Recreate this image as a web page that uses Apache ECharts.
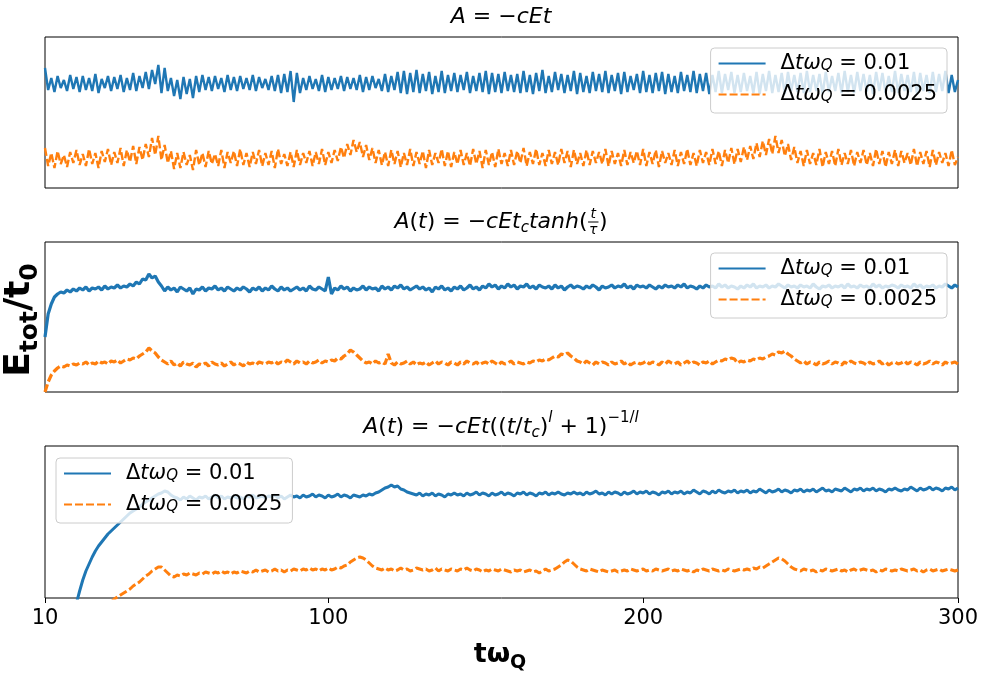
<!DOCTYPE html>
<html>
<head>
<meta charset="utf-8">
<script src="https://cdn.jsdelivr.net/npm/echarts@6/dist/echarts.min.js"></script>
<style>html,body{margin:0;padding:0;background:#fff;}#c{width:988px;height:673px;}</style>
</head>
<body>
<div id="c"></div>
<script>
// sample grid: t = 10 ... 300 (step 1)
const tStart = 10, tEnd = 300;
const xTicks = [10, 100, 200, 300];
const seriesNames = ['dt=0.01', 'dt=0.0025'];

// Panel 1: A = -cEt
const p1Fine = [
120,98,110,96,112,100,108,97,113,99,
111,96,112,98,110,97,114,95,109,100,
112,97,111,99,113,96,110,98,115,97,
112,100,116,99,118,104,123,95,120,97,
110,92,108,89,111,94,109,90,112,96,
113,98,111,97,112,99,110,96,113,98,
111,97,112,99,110,98,113,97,111,100,
109,98,112,97,113,95,114,96,117,86,
115,95,110,98,112,99,109,97,113,96,
111,98,110,99,112,97,111,99,110,98,
113,96,111,98,112,100,109,97,114,96,
112,98,116,95,117,94,115,96,118,95,
114,97,116,94,112,96,117,95,113,97,
115,96,113,98,116,95,112,97,115,96,
117,94,115,96,114,95,116,97,113,96,
114,95,117,96,113,94,115,97,118,95,
112,96,116,98,114,95,113,97,117,94,
115,96,112,95,116,97,114,96,117,95,
113,97,115,94,116,96,112,98,114,95,
117,96,113,95,115,97,116,94,114,96,
112,95,116,97,113,96,117,95,114,97,
115,94,113,96,117,95,114,98,116,95,
113,96,115,97,112,95,116,94,114,97,
117,95,113,96,115,94,116,97,113,96,
115,95,117,96,113,97,114,94,116,96,
112,97,115,95,117,96,113,95,116,97,
114,96,113,94,116,97,115,95,112,96,
117,95,114,97,113,96,116,94,115,97,
113,95,116,96,114,97,117,95,113,96,108];
const p1Coarse = [
40,22,35,20,37,24,33,21,36,25,
38,23,34,22,39,24,35,20,37,26,
39,23,36,25,40,22,38,26,42,24,
41,28,44,31,50,33,52,28,43,25,
37,19,35,20,36,23,33,18,38,23,
35,21,37,24,34,22,38,20,36,25,
37,22,39,23,35,21,36,24,38,22,
35,23,37,20,39,24,34,22,36,21,
38,23,35,25,37,22,36,24,39,23,
36,25,38,27,41,30,44,33,48,36,
46,31,43,28,40,25,38,23,36,22,
38,24,37,21,35,23,39,22,36,24,
37,20,38,23,35,25,39,22,37,21,
36,24,38,23,35,22,39,24,37,20,
38,23,36,21,39,24,35,22,38,23,
37,25,40,22,36,24,39,23,35,22,
38,24,36,23,39,25,37,21,38,24,
35,22,38,23,37,25,36,24,39,22,
37,24,35,22,38,23,36,25,37,23,
39,22,36,24,38,21,37,25,35,23,
38,22,36,24,39,23,35,22,38,25,
36,23,39,24,37,22,38,25,40,24,
39,26,41,28,42,29,45,31,47,33,
49,34,52,35,48,32,44,28,41,25,
37,22,38,24,35,23,39,21,36,24,
37,22,39,23,35,24,38,22,36,25,
38,23,35,22,39,24,37,21,36,24,
38,22,37,25,35,23,39,22,36,24,
37,21,38,23,36,25,35,22,38,23,31];

// Panel 2: A(t) = -cEt_c tanh(t/tau)
const p2Fine = [
55,78,88,95,98,100,99,102,100,103,
101,104,102,105,101,104,103,105,102,106,
103,105,104,107,104,106,105,108,106,110,
108,113,112,118,114,116,110,106,101,105,
102,104,100,105,103,101,104,98,103,102,
105,101,104,103,106,102,104,101,105,103,
101,104,102,105,103,100,104,102,105,101,
104,102,106,103,101,105,102,104,101,103,
105,102,104,101,106,103,102,105,103,101,
115,98,104,102,106,103,105,101,104,102,
103,106,102,105,103,104,101,106,103,105,
102,106,104,107,103,105,102,104,106,103,
105,102,104,100,105,103,106,102,104,101,
105,103,106,102,104,107,103,105,102,106,
104,108,105,107,103,106,104,108,105,107,
103,106,105,108,104,106,103,107,105,104,
106,103,107,104,106,102,105,107,104,106,
105,103,106,104,107,105,102,106,104,105,
107,104,106,105,108,104,106,103,107,105,
106,104,107,105,103,106,104,107,105,106,
104,107,105,108,104,106,105,103,106,104,
107,105,106,104,108,105,107,104,106,105,
103,106,104,107,105,108,104,106,105,107,
104,106,105,108,106,104,107,105,106,104,
107,105,106,104,108,105,103,106,105,107,
104,106,105,107,104,108,105,106,104,107,
105,106,104,108,105,107,104,106,105,107,
106,104,107,105,106,104,108,105,107,104,
106,105,107,104,106,105,108,106,104,107,105];
const p2Coarse = [
0,10,17,21,24,26,25,27,26,28,
27,29,28,30,27,29,28,31,29,30,
28,31,30,32,29,31,33,32,34,33,
36,38,40,44,41,39,35,32,30,28,
31,27,29,26,30,28,27,29,25,28,
27,29,26,30,28,27,29,26,28,30,
27,29,28,26,30,28,29,27,30,29,
28,30,29,31,28,30,29,32,30,28,
31,29,30,28,31,29,30,32,29,31,
30,32,31,34,33,36,38,42,40,37,
34,31,29,30,28,31,29,30,28,38,
29,27,30,28,29,31,28,30,27,29,
28,30,27,29,31,28,30,29,27,30,
29,27,30,28,31,29,28,30,27,29,
30,28,31,29,27,30,28,29,31,28,
30,29,28,30,29,31,30,32,31,33,
32,34,36,35,38,37,39,36,34,31,
30,28,31,29,27,30,28,30,29,27,
30,28,29,31,28,30,27,29,30,28,
29,31,28,30,29,27,30,28,31,29,
28,30,27,29,31,28,30,29,27,30,
29,31,28,30,32,31,33,32,34,33,
29,31,30,32,31,33,32,34,33,35,
36,38,37,40,39,41,38,36,33,31,
29,31,28,30,29,27,30,28,29,31,
28,30,29,27,30,28,31,29,28,30,
29,27,30,28,29,31,28,30,27,29,
30,28,29,31,28,30,29,27,30,28,
29,31,28,30,29,27,30,28,29,30,28];

// Panel 3: A(t) = -cEt((t/t_c)^l + 1)^(-1/l)
const p3Fine = [
-420,-360,-300,-250,-200,-160,-120,-85,-55,-28,
-5,7,18,27,34,41,47,52,56,60,
64,67,70,73,76,79,82,85,87,89,
91,94,96,98,100,102,104,105,107,106,
103,101,100,98,101,99,102,100,98,101,
100,102,99,101,103,100,102,99,101,100,
102,100,101,99,102,101,103,100,101,102,
100,102,101,103,100,102,99,101,103,101,
102,100,103,101,102,104,101,103,102,100,
103,101,102,104,101,103,102,100,103,102,
101,103,102,104,103,105,106,108,110,111,
113,111,112,109,108,106,105,104,103,105,
102,104,103,105,102,104,103,101,104,103,
105,103,104,102,105,103,104,106,103,105,
104,102,105,103,104,106,103,105,104,102,
105,104,106,103,105,104,102,105,104,106,
103,105,104,106,104,103,105,104,106,104,
105,103,106,104,105,107,104,105,103,106,
104,106,105,103,106,104,105,107,104,106,
105,107,104,106,105,103,106,105,107,104,
106,105,107,104,106,105,108,106,104,107,
106,104,107,105,108,106,105,107,106,108,
105,107,106,108,105,107,106,109,107,105,
108,106,107,109,106,108,107,105,108,107,
109,106,108,107,109,106,108,110,107,108,
106,109,108,107,110,108,106,109,108,110,
107,109,108,110,107,109,108,106,109,108,
110,108,107,109,108,111,109,107,110,108,
109,111,108,110,109,107,110,109,111,108,110];
const p3Coarse = [
-300,-270,-240,-210,-185,-160,-140,-120,-102,-86,
-72,-60,-50,-41,-34,-28,-22,-17,-13,-10,
-7,-4,-1,1,3,5,7,9,12,14,
16,19,22,24,27,29,31,31,28,25,
22,21,23,22,24,23,25,24,23,25,
24,26,25,24,26,25,27,25,26,24,
26,25,27,26,25,27,26,28,26,27,
28,26,27,29,27,28,26,28,27,29,
28,27,29,28,30,28,29,27,29,28,
30,28,29,31,30,32,33,36,38,40,
41,40,38,35,32,30,29,28,30,28,
29,27,28,30,28,29,27,28,30,29,
28,29,27,28,30,27,29,28,27,29,
28,27,29,28,30,28,27,29,28,26,
28,27,29,28,27,29,28,27,26,28,
27,28,26,27,28,26,27,25,27,29,
27,28,29,31,33,36,38,37,34,31,
29,28,27,29,28,27,26,28,27,26,
27,28,26,27,28,27,29,28,27,28,
29,27,28,27,29,28,27,28,29,27,
28,27,29,28,27,28,26,28,27,29,
28,27,29,28,27,28,27,29,28,27,
28,29,28,29,28,30,29,31,30,32,
34,36,38,40,39,37,34,31,29,28,
27,29,28,27,28,26,28,27,29,28,
27,28,29,27,28,26,28,29,27,28,
29,28,27,28,26,28,27,29,28,27,
28,27,29,28,27,28,29,27,28,26,
28,29,27,28,29,27,28,29,28,27,28];

const panels = [
  {fine: p1Fine, coarse: p1Coarse, top: 37, height: 151, lw: 2.4},
  {fine: p2Fine, coarse: p2Coarse, top: 242, height: 150, lw: 3.2},
  {fine: p3Fine, coarse: p3Coarse, top: 446, height: 152, lw: 3}
];

const BLUE = '#1f77b4', ORANGE = '#ff7f0e';
const FONT = 'DejaVu Sans';

function toPairs(vals) {
  return vals.map((v, i) => [tStart + i, v]);
}

// --- math-like text helper (measured with canvas) ---
const mctx = document.createElement('canvas').getContext('2d');
function fontStr(p) {
  return (p.it ? 'italic ' : 'normal ') + (p.bold ? 'bold ' : 'normal ') + p.size + 'px "' + FONT + '"';
}
function measure(p) { mctx.font = fontStr(p); return mctx.measureText(p.s).width; }
function mathRow(pieces, cx, cy, base, bold) {
  const items = pieces.map(p => {
    if (p.frac) {
      const sz = Math.round(base * 0.62);
      const a = {s: p.frac[0], it: true, size: sz, bold};
      const b = {s: p.frac[1], it: true, size: sz, bold};
      const w = Math.max(measure(a), measure(b)) + 3;
      return {frac: true, a, b, w};
    }
    const q = Object.assign({size: base, bold}, p);
    q.size = p.sub || p.sup ? Math.round(base * 0.7) : base;
    q.w = measure(q);
    return q;
  });
  const total = items.reduce((s, q) => s + q.w, 0);
  let x = cx - total / 2;
  const els = [];
  const txt = (s, q, xx, yy) => ({
    type: 'text', x: xx, y: yy,
    style: {text: s, fontSize: q.size, fontFamily: FONT, fontStyle: q.it ? 'italic' : 'normal',
      fontWeight: q.bold ? 'bold' : 'normal', fill: '#000', align: 'left', verticalAlign: 'middle',
      textAlign: 'left', textVerticalAlign: 'middle'}
  });
  items.forEach(q => {
    if (q.frac) {
      els.push(txt(q.a.s, q.a, x + (q.w - measure(q.a)) / 2, cy - base * 0.36));
      els.push(txt(q.b.s, q.b, x + (q.w - measure(q.b)) / 2, cy + base * 0.36));
      els.push({type: 'line', shape: {x1: x + 0.5, y1: cy, x2: x + q.w - 0.5, y2: cy},
        style: {stroke: '#000', lineWidth: 1}});
    } else {
      let dy = 0;
      if (q.sub) dy = base * 0.3;
      if (q.sup) dy = -base * 0.4;
      els.push(txt(q.s, q, x, cy + dy));
    }
    x += q.w;
  });
  return els;
}

const plotCx = 501;
const TS = 22;
const title1 = mathRow([{s: 'A', it: true}, {s: ' = \u2212'}, {s: 'cEt', it: true}], plotCx, 17, TS, false);
const title2 = mathRow([{s: 'A', it: true}, {s: '('}, {s: 't', it: true}, {s: ') = \u2212'}, {s: 'cEt', it: true},
  {s: 'c', it: true, sub: true}, {s: 'tanh', it: true}, {s: '('}, {frac: ['t', '\u03c4']}, {s: ')'}], plotCx, 222, TS, false);
const title3 = mathRow([{s: 'A', it: true}, {s: '('}, {s: 't', it: true}, {s: ') = \u2212'}, {s: 'cEt', it: true},
  {s: '(('}, {s: 't', it: true}, {s: '/'}, {s: 't', it: true}, {s: 'c', it: true, sub: true}, {s: ')'},
  {s: 'l', it: true, sup: true}, {s: ' + 1)'}, {s: '\u22121/', sup: true}, {s: 'l', it: true, sup: true}], plotCx, 427, TS, false);
const xName = mathRow([{s: 't\u03c9'}, {s: 'Q', sub: true}], 0, 0, 27, true);
const yName = mathRow([{s: 'E'}, {s: 'tot', sub: true}, {s: '/t'}, {s: '0', sub: true}], 0, 0, 36, true);

const grids = [], xAxes = [], yAxes = [], series = [];
panels.forEach((p, k) => {
  const last = k === panels.length - 1;
  grids.push({left: 45, right: 30, top: p.top, height: p.height, show: true,
    borderColor: '#000', borderWidth: 1, backgroundColor: 'transparent'});
  xAxes.push({type: 'value', gridIndex: k, min: tStart, max: tEnd,
    axisLine: {show: false}, splitLine: {show: false},
    axisTick: {show: last, length: 5, lineStyle: {color: '#000', width: 1}, customValues: xTicks},
    axisLabel: {show: last, customValues: xTicks, fontSize: 21, fontFamily: FONT, color: '#000', margin: 10}});
  yAxes.push({type: 'value', gridIndex: k, min: 0, max: p.height,
    axisLine: {show: false}, axisTick: {show: false}, axisLabel: {show: false}, splitLine: {show: false}});
  series.push({name: seriesNames[0], type: 'line', xAxisIndex: k, yAxisIndex: k, data: toPairs(p.fine),
    symbol: 'none', showSymbol: false, animation: false, clip: true,
    lineStyle: {color: BLUE, width: p.lw}, itemStyle: {color: BLUE}});
  series.push({name: seriesNames[1], type: 'line', xAxisIndex: k, yAxisIndex: k, data: toPairs(p.coarse),
    symbol: 'none', showSymbol: false, animation: false, clip: true,
    lineStyle: {color: ORANGE, width: p.lw, type: [8, 3]}, itemStyle: {color: ORANGE}});
});

const legendRich = {
  n: {fontSize: 21, fontFamily: FONT, color: '#000'},
  i: {fontSize: 21, fontFamily: FONT, fontStyle: 'italic', color: '#000'},
  s: {fontSize: 15, fontFamily: FONT, fontStyle: 'italic', color: '#000', verticalAlign: 'bottom', lineHeight: 12}
};
function legendFmt(name) {
  return name === seriesNames[0] ? '{n|\u0394}{i|t\u03c9}{s|Q}{n| = 0.01}' : '{n|\u0394}{i|t\u03c9}{s|Q}{n| = 0.0025}';
}
function mkLegend(pos) {
  return Object.assign({
    data: seriesNames, orient: 'vertical', itemWidth: 47, itemHeight: 14, itemGap: 10,
    padding: [5, 10, 8, 7], backgroundColor: 'rgba(255,255,255,0.8)', borderColor: '#cccccc',
    borderWidth: 1, borderRadius: 4, selectedMode: false, formatter: legendFmt,
    itemStyle: {opacity: 0}, lineStyle: {width: 2},
    textStyle: {fontSize: 21, fontFamily: FONT, color: '#000', padding: [0, 0, 0, 10], rich: legendRich}
  }, pos);
}

const chart = echarts.init(document.getElementById('c'), null, {renderer: 'canvas'});
chart.setOption({
  backgroundColor: '#fff',
  animation: false,
  grid: grids,
  xAxis: xAxes,
  yAxis: yAxes,
  series: series,
  legend: [mkLegend({right: 41, top: 48}), mkLegend({right: 41, top: 253}), mkLegend({left: 56, top: 458})],
  graphic: {elements: [].concat(
    title1, title2, title3,
    [{type: 'group', x: 500, y: 655, children: xName},
     {type: 'group', x: 20, y: 320, rotation: Math.PI / 2, children: yName}]
  )}
});
</script>
</body>
</html>
